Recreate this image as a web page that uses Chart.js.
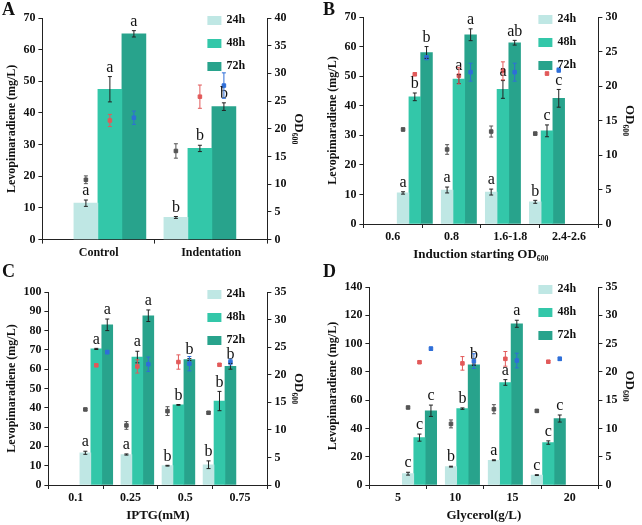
<!DOCTYPE html>
<html>
<head>
<meta charset="utf-8">
<style>
  body { margin:0; background:#fff; }
  #wrap { position:relative; width:642px; height:525px; }
  canvas { position:absolute; }
</style>
</head>
<body>
<div id="wrap">
  <canvas id="cA" width="321" height="262" style="left:0;top:0"></canvas>
  <canvas id="cB" width="321" height="262" style="left:321px;top:0"></canvas>
  <canvas id="cC" width="321" height="263" style="left:0;top:262px"></canvas>
  <canvas id="cD" width="321" height="263" style="left:321px;top:262px"></canvas>
</div>
<script src="https://cdn.jsdelivr.net/npm/chart.js@4/dist/chart.umd.min.js"></script>
<script>
// ---- panel A
const catsA = ['Control', 'Indentation'];
const a24 = [11.5, 7], a24e = [1, 0.3];
const a48 = [47.5, 28.8], a48e = [4, 1];
const a72 = [65, 42], a72e = [1, 1.2];
const aLet = [['a','b'], ['a','b'], ['a','b']];
const aOdG = [10.8, 16], aOdGe = [0.7, 1.3];
const aOdR = [21.5, 25.8], aOdRe = [1.1, 2.1];
const aOdB = [22, 27.8], aOdBe = [1.2, 2.3];

// ---- panel B
const catsB = ['0.6', '0.8', '1.6-1.8', '2.4-2.6'];
const b24 = [10.5, 11.5, 10.8, 7.5], b24e = [0.4, 1, 1, 0.5];
const b48 = [43, 49, 45.5, 31.5], b48e = [1.3, 1.5, 3, 2];
const b72 = [58, 64, 61.3, 42.5], b72e = [2, 2, 0.8, 3];
const bLet = [['a','a','a','b'], ['b','a','a','c'], ['b','a','ab','c']];
const bOdG = [13.7, 10.8, 13.4, 13.1], bOdGe = [0.2, 0.7, 0.8, 0.2];
const bOdR = [21.7, 21.5, 22.2, 21.8], bOdRe = [0.2, 1.2, 1.3, 0.2];
const bOdB = [24.1, 22, 22, 22.3], bOdBe = [0.3, 1.3, 1.3, 0.3];

// ---- panel C
const catsC = ['0.1', '0.25', '0.5', '0.75'];
const c24 = [16.7, 15.8, 10, 10.5], c24e = [0.8, 0.3, 0.2, 2];
const c48 = [70.5, 66.3, 41.5, 43.5], c48e = [0.3, 3, 0.2, 5];
const c72 = [83, 87.7, 65, 61.5], c72e = [3, 3, 0.5, 1.5];
const cLet = [['a','a','b','b'], ['a','a','b','b'], ['a','a','b','b']];
const cOdG = [13.7, 10.8, 13.4, 13.1], cOdGe = [0.2, 0.7, 0.8, 0.2];
const cOdR = [21.7, 21.5, 22.3, 21.8], cOdRe = [0.2, 1.2, 1.3, 0.2];
const cOdB = [24.1, 21.9, 22, 22.3], cOdBe = [0.3, 1.3, 1.3, 0.5];

// ---- panel D
const catsD = ['5', '10', '15', '20'];
const d24 = [8, 13, 17.5, 7], d24e = [1, 0.3, 0.3, 0.3];
const d48 = [33.5, 54, 72.5, 30], d48e = [2.5, 0.5, 2, 1.2];
const d72 = [52.5, 85, 114, 47], d72e = [4, 0.5, 2.5, 2.5];
const dLet = [['c','b','a','c'], ['c','b','a','c'], ['c','b','a','c']];
const dOdG = [13.7, 10.8, 13.4, 13.1], dOdGe = [0.2, 0.7, 0.8, 0.2];
const dOdR = [21.7, 21.5, 22.3, 21.8], dOdRe = [0.2, 1.2, 1.3, 0.2];
const dOdB = [24.1, 21.9, 22, 22.3], dOdBe = [0.3, 1.3, 1.3, 0.3];

const seriesNames = ['24h', '48h', '72h'];
const barColors = ['#bfe7e4', '#33c7a9', '#28a38c'];
const odColors = ['#555555', '#e25a5a', '#2f6fd8'];
const CP = 0.8;
const FONT = '"Liberation Serif", "DejaVu Serif", serif';

const extras = {
  id: 'extras',
  afterDatasetsDraw(chart, args, o) {
    const ctx = chart.ctx, ca = chart.chartArea;
    const yL = chart.scales.y, yR = chart.scales.y2;
    ctx.save();
    ctx.lineWidth = 1;
    [0, 1, 2].forEach(k => {
      chart.getDatasetMeta(k).data.forEach((bar, i) => {
        const v = o.bars[k][i], e = o.barErr[k][i];
        const yt = yL.getPixelForValue(v + e), yb = yL.getPixelForValue(v - e);
        ctx.strokeStyle = '#222';
        ctx.beginPath();
        ctx.moveTo(bar.x, yt); ctx.lineTo(bar.x, yb);
        ctx.moveTo(bar.x - 2, yt); ctx.lineTo(bar.x + 2, yt);
        ctx.moveTo(bar.x - 2, yb); ctx.lineTo(bar.x + 2, yb);
        ctx.stroke();
        ctx.fillStyle = '#111';
        ctx.font = '16px ' + FONT;
        ctx.textAlign = 'center';
        ctx.textBaseline = 'bottom';
        ctx.fillText(o.letters[k][i], bar.x, yt - 1);
      });
    });
    [3, 4, 5].forEach((d, k) => {
      chart.getDatasetMeta(d).data.forEach((pt, i) => {
        const v = o.od[k][i], e = o.odErr[k][i];
        const yt = yR.getPixelForValue(v + e), yb = yR.getPixelForValue(v - e);
        ctx.strokeStyle = odColors[k];
        ctx.beginPath();
        ctx.moveTo(pt.x, yt); ctx.lineTo(pt.x, yb);
        ctx.moveTo(pt.x - 2, yt); ctx.lineTo(pt.x + 2, yt);
        ctx.moveTo(pt.x - 2, yb); ctx.lineTo(pt.x + 2, yb);
        ctx.stroke();
      });
    });
    // legend
    ctx.font = 'bold 12px ' + FONT;
    ctx.textAlign = 'left';
    ctx.textBaseline = 'middle';
    seriesNames.forEach((n, k) => {
      const x = ca.right - 60, y = ca.top + 2 + k * 23;
      ctx.fillStyle = barColors[k];
      ctx.fillRect(x, y - 4, 14, 9);
      ctx.fillStyle = '#111';
      ctx.fillText(n, x + 19, y);
    });
    ctx.font = 'bold 18px ' + FONT;
    ctx.textBaseline = 'top';
    ctx.fillText(o.tag, 2, 1);
    ctx.restore();
  }
};

function makePanel(id, tag, cats, bars, barErr, letters, od, odErr, ymax, ystep, y2max, xTitle, pad) {
  const n = cats.length;
  const datasets = bars.map((d, k) => ({
    type: 'bar', label: seriesNames[k],
    data: d.map((v, i) => ({ x: i + (k - 1) * CP / 3, y: v })),
    backgroundColor: barColors[k], grouped: false,
    categoryPercentage: 1, barPercentage: 1, yAxisID: 'y', xAxisID: 'x2', order: 2
  }));
  od.forEach((d, k) => {
    datasets.push({
      type: 'line', label: 'OD ' + seriesNames[k], showLine: false,
      data: d.map((v, i) => ({ x: i + (k - 1) * CP / 3, y: v })),
      pointStyle: 'rect', pointRadius: 2.5, backgroundColor: odColors[k], borderColor: odColors[k],
      xAxisID: 'x2', yAxisID: 'y2', order: 1
    });
  });
  const tickFont = { family: FONT, size: 12, weight: 'bold' };
  const axisGrid = { drawOnChartArea: false, color: '#222', tickLength: 4, tickColor: '#222' };
  new Chart(document.getElementById(id), {
    data: { labels: cats, datasets },
    plugins: [extras],
    options: {
      responsive: false, animation: false,
      layout: { padding: pad },
      plugins: {
        legend: { display: false }, tooltip: { enabled: false },
        extras: { tag, bars, barErr, letters, od, odErr }
      },
      scales: {
        x: {
          type: 'category', offset: true,
          ticks: { font: tickFont, color: '#111', padding: 2 },
          grid: Object.assign({ offset: true }, axisGrid),
          border: { color: '#222' },
          title: { display: !!xTitle, text: xTitle, font: { family: FONT, size: 13, weight: 'bold' }, color: '#111', padding: { top: 0, bottom: 0 } }
        },
        x2: { type: 'linear', display: false, min: -0.5, max: n - 0.5 },
        y: {
          min: 0, max: ymax, ticks: { stepSize: ystep, font: tickFont, color: '#111' },
          grid: axisGrid, border: { color: '#222' },
          title: { display: true, text: 'Levopimaradiene (mg/L)', font: { family: FONT, size: 12, weight: 'bold' }, color: '#111', padding: 1 }
        },
        y2: {
          position: 'right', min: 0, max: y2max, ticks: { stepSize: 5, font: tickFont, color: '#111' },
          grid: axisGrid, border: { color: '#222' },
          title: { display: true, text: 'OD\u2086\u2080\u2080', font: { family: FONT, size: 13, weight: 'bold' }, color: '#111', padding: 1 }
        }
      }
    }
  });
}

makePanel('cA', 'A', catsA, [a24, a48, a72], [a24e, a48e, a72e], aLet,
  [aOdG, aOdR, aOdB], [aOdGe, aOdRe, aOdBe], 70, 10, 40, '', { left: 4, top: 18, right: 14, bottom: 0 });
makePanel('cB', 'B', catsB, [b24, b48, b72], [b24e, b48e, b72e], bLet,
  [bOdG, bOdR, bOdB], [bOdGe, bOdRe, bOdBe], 70, 10, 30, 'Induction starting OD\u2086\u2080\u2080', { left: 4, top: 17, right: 4, bottom: 0 });
makePanel('cC', 'C', catsC, [c24, c48, c72], [c24e, c48e, c72e], cLet,
  [cOdG, cOdR, cOdB], [cOdGe, cOdRe, cOdBe], 100, 10, 35, 'IPTG(mM)', { left: 4, top: 30, right: 14, bottom: 2 });
makePanel('cD', 'D', catsD, [d24, d48, d72], [d24e, d48e, d72e], dLet,
  [dOdG, dOdR, dOdB], [dOdGe, dOdRe, dOdBe], 140, 20, 35, 'Glycerol(g/L)', { left: 4, top: 25, right: 4, bottom: 2 });
</script>
</body>
</html>
